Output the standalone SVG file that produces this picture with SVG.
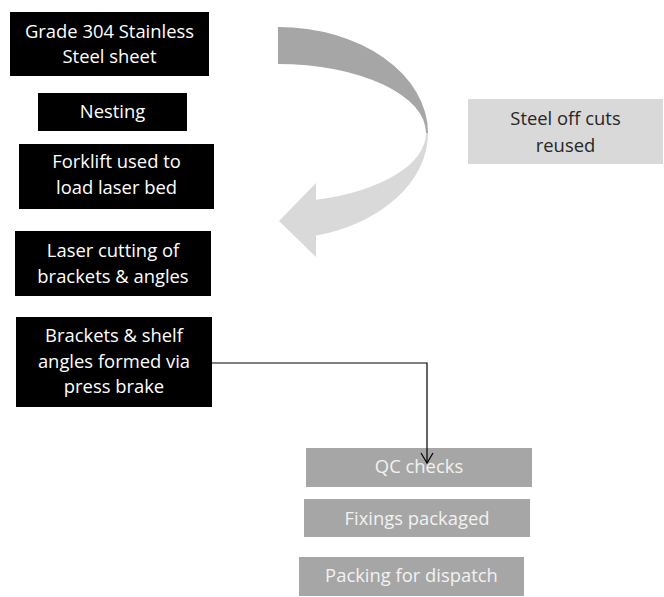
<svg xmlns="http://www.w3.org/2000/svg" width="664" height="597" viewBox="0 0 664 597">
<defs>
<style>
.blk{fill:#000}
.gry{fill:#a6a6a6}
.lgt{fill:#d9d9d9}
text{font-family:"Open Sans","Liberation Sans",sans-serif;font-size:18.4px;text-anchor:middle}
.w{fill:#fff}
.g{fill:#f2f2f2}
.d{fill:#262626}
.conn{fill:none;stroke:#000;stroke-width:1.2}
</style>
<marker id="arr" markerWidth="14" markerHeight="14" refX="12" refY="7" orient="auto" markerUnits="userSpaceOnUse">
<polyline points="2,1 12,7 2,13" fill="none" stroke="#000" stroke-width="1.2"/>
</marker>
</defs>
<rect width="664" height="597" fill="#fff"/>
<g id="curved-arrow">
<path class="gry" d="M278,27 A150,106 0 0 1 428,133 L426,133 A148,69 0 0 0 278,64 Z"/>
<path class="lgt" d="M428,133 A150,106 0 0 1 316,235.6 L316,257 L279,221 L316,183 L316,199.7 A148,69 0 0 0 426,133 Z"/>
</g>
<g id="n1"><rect class="blk" x="10" y="12" width="199" height="64"/><text class="w" x="109.5" y="38">Grade 304 Stainless</text><text class="w" x="109.5" y="63">Steel sheet</text></g>
<g id="n2"><rect class="blk" x="38" y="93" width="149" height="38"/><text class="w" x="112.5" y="118">Nesting</text></g>
<g id="n3"><rect class="blk" x="19" y="144" width="195" height="65"/><text class="w" x="116.5" y="168">Forklift used to</text><text class="w" x="116.5" y="194">load laser bed</text></g>
<g id="n4"><rect class="blk" x="15" y="231" width="196" height="65"/><text class="w" x="113" y="257">Laser cutting of</text><text class="w" x="113" y="283">brackets &amp; angles</text></g>
<g id="n5"><rect class="blk" x="16" y="317" width="196" height="90"/><text class="w" x="114" y="342">Brackets &amp; shelf</text><text class="w" x="114" y="368">angles formed via</text><text class="w" x="114" y="393">press brake</text></g>
<g id="n6"><rect class="lgt" x="468" y="99" width="195" height="65"/><text class="d" x="565.5" y="125">Steel off cuts</text><text class="d" x="565.5" y="152">reused</text></g>
<g id="n7"><rect class="gry" x="306" y="448" width="226" height="39"/><text class="g" x="419" y="473">QC checks</text></g>
<g id="n8"><rect class="gry" x="304" y="499" width="226" height="38"/><text class="g" x="417" y="525">Fixings packaged</text></g>
<g id="n9"><rect class="gry" x="299" y="557" width="225" height="39"/><text class="g" x="411.5" y="582">Packing for dispatch</text></g>
<g id="connectors">
<path class="conn" d="M212,363 H427 V463" marker-end="url(#arr)"/>
</g>
</svg>
